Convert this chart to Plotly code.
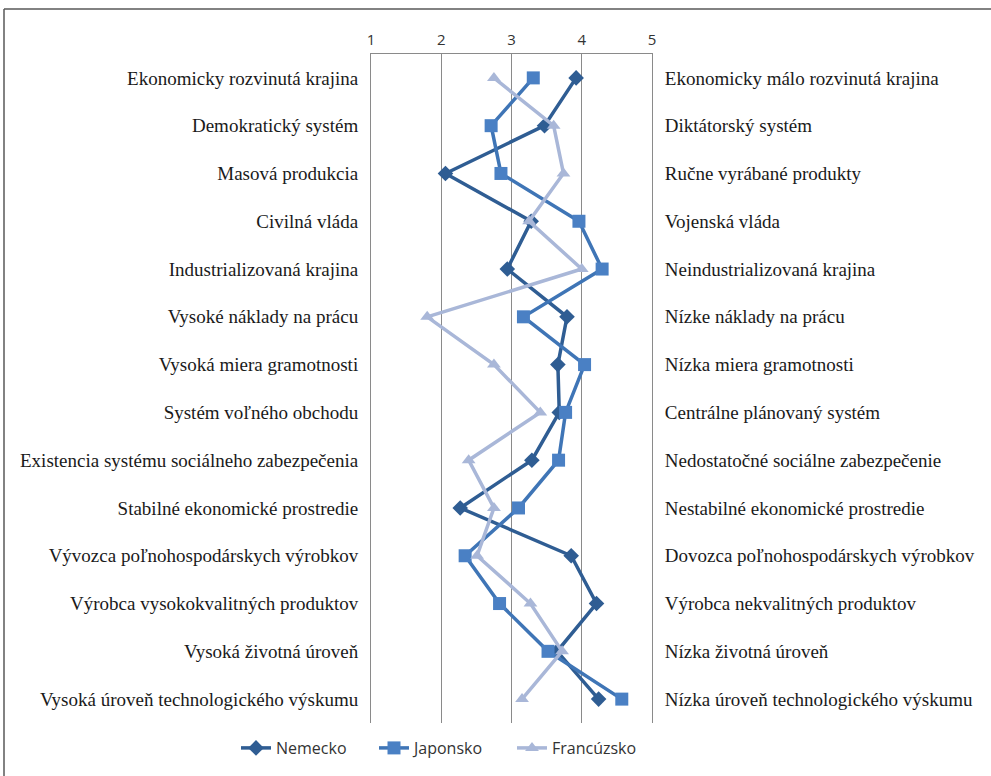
import plotly.graph_objects as go

# Bipolar attribute pairs (left pole / right pole), top to bottom
left_labels = [
    "Ekonomicky rozvinutá krajina",
    "Demokratický systém",
    "Masová produkcia",
    "Civilná vláda",
    "Industrializovaná krajina",
    "Vysoké náklady na prácu",
    "Vysoká miera gramotnosti",
    "Systém voľného obchodu",
    "Existencia systému sociálneho zabezpečenia",
    "Stabilné ekonomické prostredie",
    "Vývozca poľnohospodárskych výrobkov",
    "Výrobca vysokokvalitných produktov",
    "Vysoká životná úroveň",
    "Vysoká úroveň technologického výskumu",
]
right_labels = [
    "Ekonomicky málo rozvinutá krajina",
    "Diktátorský systém",
    "Ručne vyrábané produkty",
    "Vojenská vláda",
    "Neindustrializovaná krajina",
    "Nízke náklady na prácu",
    "Nízka miera gramotnosti",
    "Centrálne plánovaný systém",
    "Nedostatočné sociálne zabezpečenie",
    "Nestabilné ekonomické prostredie",
    "Dovozca poľnohospodárskych výrobkov",
    "Výrobca nekvalitných produktov",
    "Nízka životná úroveň",
    "Nízka úroveň technologického výskumu",
]

# Mean ratings on the 1-5 scale
nemecko = [3.92, 3.47, 2.06, 3.28, 2.94, 3.79, 3.66, 3.68, 3.29, 2.27, 3.85, 4.21, 3.65, 4.24]
japonsko = [3.31, 2.71, 2.85, 3.96, 4.29, 3.17, 4.04, 3.77, 3.67, 3.10, 2.34, 2.83, 3.52, 4.57]
francuzsko = [2.75, 3.60, 3.74, 3.25, 4.00, 1.80, 2.75, 3.41, 2.39, 2.75, 2.51, 3.27, 3.72, 3.15]

scale_ticks = [1, 2, 3, 4, 5]
rows = list(range(len(left_labels)))

series = [
    ("Nemecko", nemecko, "#2F5D93", "#2F5D93", "diamond", 12),
    ("Japonsko", japonsko, "#3F75B6", "#4A80C4", "square", 13),
    ("Francúzsko", francuzsko, "#A9B7D8", "#A9B7D8", "triangle-up", 12),
]

fig = go.Figure()
for name, vals, lcol, mcol, sym, size in series:
    fig.add_trace(go.Scatter(
        x=vals, y=rows, name=name, mode="lines+markers",
        line=dict(color=lcol, width=3.5),
        marker=dict(symbol=sym, size=size, color=mcol, line=dict(width=0)),
    ))

# helper trace so the right-hand axis is rendered
fig.add_trace(go.Scatter(
    x=[None] * len(rows), y=rows, yaxis="y2", mode="markers",
    showlegend=False, hoverinfo="skip",
))

label_font = dict(family="Liberation Serif", size=19, color="#1a1a1a")
grid_col = "#8a8a8a"

# plot area in pixels
PL, PR, PT, PB = 371, 652, 54, 723
pw, ph = PR - PL, PB - PT

fig.update_layout(
    width=991, height=776, autosize=False,
    margin=dict(l=PL, r=991 - PR, t=PT, b=776 - PB, autoexpand=False),
    paper_bgcolor="white", plot_bgcolor="white",
    xaxis=dict(
        side="top", range=[1, 5], tickvals=scale_ticks,
        ticktext=[str(t) for t in scale_ticks],
        showgrid=True, gridcolor=grid_col, gridwidth=1,
        zeroline=False, showline=True, linecolor=grid_col, linewidth=1,
        mirror=False, ticks="", ticklabelstandoff=2,
        tickfont=dict(family="Open Sans", size=15, color="#333333"),
    ),
    yaxis=dict(
        range=[13.5, -0.5], tickvals=rows, ticktext=left_labels,
        showgrid=False, zeroline=False, showline=True,
        linecolor=grid_col, linewidth=1, ticks="",
        ticklabelstandoff=8, tickfont=label_font,
    ),
    yaxis2=dict(
        overlaying="y", side="right", range=[13.5, -0.5],
        tickvals=rows, ticktext=right_labels,
        showgrid=False, zeroline=False, showline=True,
        linecolor=grid_col, linewidth=1, ticks="",
        ticklabelstandoff=8, tickfont=label_font,
    ),
    legend=dict(
        orientation="h",
        x=(236 - PL) / pw, xanchor="left",
        y=(PB - 748) / ph, yanchor="middle",
        font=dict(family="Open Sans", size=16, color="#333333"),
        entrywidth=93, entrywidthmode="pixels",
        tracegroupgap=0, bgcolor="rgba(0,0,0,0)",
    ),
    shapes=[
        # outer chart frame (top and left edges)
        dict(type="line", xref="paper", yref="paper",
             x0=(4 - PL) / pw, x1=(991 - PL) / pw,
             y0=(PB - 9) / ph, y1=(PB - 9) / ph,
             line=dict(color="#595959", width=1.5)),
        dict(type="line", xref="paper", yref="paper",
             x0=(4 - PL) / pw, x1=(4 - PL) / pw,
             y0=(PB - 9) / ph, y1=(PB - 776) / ph,
             line=dict(color="#595959", width=1.5)),
    ],
)

fig.write_html("out.html")
